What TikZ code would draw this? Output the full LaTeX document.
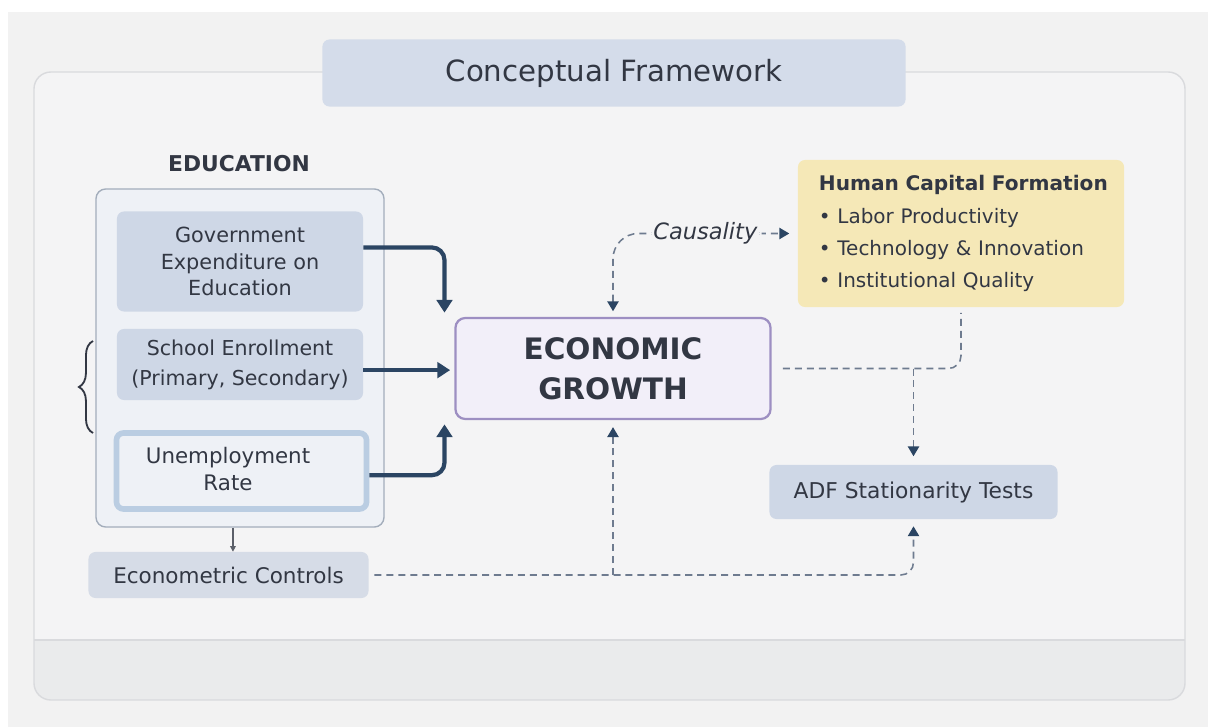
\documentclass[tikz,border=0pt]{standalone}
\usepackage{fontspec}
\setmainfont{DejaVu Sans}
\usepackage{xcolor}
\usetikzlibrary{arrows.meta}
\usetikzlibrary{decorations.pathreplacing}

\definecolor{pagegray}{HTML}{F2F2F2}
\definecolor{framefill}{HTML}{F4F4F5}
\definecolor{frameline}{HTML}{D9DADD}
\definecolor{bandgray}{HTML}{EAEBEC}
\definecolor{slate}{HTML}{D4DCEA}
\definecolor{slatebox}{HTML}{CED7E6}
\definecolor{ctrlbox}{HTML}{D6DCE7}
\definecolor{edufill}{HTML}{EEF1F6}
\definecolor{eduline}{HTML}{A3ADBB}
\definecolor{unempline}{HTML}{BACDE2}
\definecolor{growthfill}{HTML}{F2EFF9}
\definecolor{growthline}{HTML}{9D8FC2}
\definecolor{hcfill}{HTML}{F5E8B7}
\definecolor{navy}{HTML}{2B4563}
\definecolor{dashgray}{HTML}{6E7B8F}
\definecolor{textdark}{HTML}{323743}

\tikzset{every node/.style={text=textdark},
 box/.style={rounded corners=5pt, align=center,
   font=\fontsize{14.8}{18.8}\selectfont},
 lightbox/.style={box, fill=slatebox},
 flow/.style={line width=3pt, draw=navy, rounded corners=9pt,
   -{Triangle[length=9pt,width=11pt]}, shorten >=3pt},
 link/.style={draw=dashgray, line width=1.1pt, dash pattern=on 5pt off 3.5pt,
   rounded corners=9pt},
 tip/.style={-{Triangle[length=7pt,width=8pt,color=navy]}},
 bothtips/.style={{Triangle[length=7pt,width=8pt,color=navy]}-{Triangle[length=7pt,width=8pt,color=navy]}},
 }

\begin{document}
\begin{tikzpicture}[x=0.025cm, y=-0.025cm]
        \useasboundingbox (0,0) rectangle (1208,727);
        \fill[white] (0,0) rectangle (1208,727);
        \fill[pagegray] (8,12) rectangle (1208,727);
        % frame with its bottom band
        \fill[framefill, rounded corners=12pt] (34,72) rectangle (1185,700);
        \begin{scope}
            \clip[rounded corners=12pt] (34,72) rectangle (1185,700);
            \fill[bandgray] (34,640) rectangle (1185,700);
        \end{scope}
        \draw[frameline, line width=1pt] (34,640) -- (1185,640);
        \draw[frameline, line width=1pt, rounded corners=12pt] (34,72) rectangle (1185,700);

        \node[box, fill=slate, minimum width=14.575cm, minimum height=1.675cm,
            font=\fontsize{20.8}{25}\selectfont] (title) at (614,73) {Conceptual Framework};

        % education block
        \node[font=\fontsize{15.5}{18}\bfseries] (edulbl) at (239,164) {EDUCATION};
        \node[box, fill=edufill, draw=eduline, line width=1pt, rounded corners=7pt,
            minimum width=7.2cm, minimum height=8.45cm] (edu) at (240,358) {};
        \node[lightbox, minimum width=6.15cm, minimum height=2.5cm] (gov) at (240,261.5)
            {Government\\Expenditure on\\Education};
        \node[lightbox, minimum width=6.15cm, minimum height=1.775cm,
            font=\fontsize{14.6}{21.5}\selectfont] (school) at (240,364.5)
            {School Enrollment\\(Primary, Secondary)};
        \node[box, fill=edufill, draw=unempline, line width=4pt,
            minimum width=6.25cm, minimum height=1.9cm] (unemp) at (241.5,471) {};
        \node[box, font=\fontsize{15.2}{19}\selectfont] (unemptxt) at (228,469)
            {Unemployment\\Rate};
        \draw[textdark, line width=1.3pt, decorate,
            decoration={brace, amplitude=10pt}] (93,433) -- (93,341);

        \node[box, fill=ctrlbox, minimum width=7cm, minimum height=1.15cm,
            font=\fontsize{15.3}{19}\selectfont] (econ) at (228.5,575) {Econometric Controls};

        \node[box, fill=growthfill, draw=growthline, line width=1.6pt, rounded corners=7pt,
            minimum width=7.875cm, minimum height=2.525cm,
            font=\fontsize{21}{28.5}\bfseries] (growth) at (613,368.5) {ECONOMIC\\GROWTH};

        \node[box, fill=hcfill, align=left, text width=7.1cm, inner xsep=0.525cm,
            minimum height=3.675cm, font=\fontsize{14.2}{22.5}\selectfont] (hcf) at (961,233.5)
            {\mbox{\fontsize{14.3}{22.5}\bfseries Human Capital Formation}\\[1pt]
             \textbullet\ Labor Productivity\\
             \textbullet\ Technology \& Innovation\\
             \textbullet\ Institutional Quality};

        \node[lightbox, minimum width=7.2cm, minimum height=1.35cm,
            font=\fontsize{15.5}{19}\selectfont] (adf) at (913.5,492) {ADF Stationarity Tests};

        % solid arrows into growth
        \draw[flow] ([yshift=10pt]gov.east) -| ([xshift=-7pt]growth.north west);
        \draw[flow] ([yshift=-4pt]school.east) -- ([yshift=-4pt]school.east -| growth.west);
        \draw[flow] ([yshift=-3pt]unemp.east) -| ([xshift=-7pt]growth.south west);
        \draw[line width=0.8pt, draw=textdark!80, -{Triangle[length=4pt,width=4pt]}]
            ([xshift=-5pt]edu.south) -- ([xshift=-5pt]edu.south |- econ.north);

        % dashed links
        \draw[link, bothtips, rounded corners=18pt, shorten <=4pt, shorten >=6pt]
            (growth.north) |- (hcf.west)
            node[pos=0.75, fill=framefill, inner sep=3pt, font=\fontsize{16}{18}\itshape]
            (caus) {Causality};
        \draw[link, shorten <=8pt, shorten >=4pt] (growth.east) -| (hcf.south);
        \draw[link, tip, shorten >=6pt] (adf.north |- growth.east) -- (adf.north);
        \draw[link, tip, shorten <=4pt, shorten >=5pt] (econ.east) -| (adf.south);
        \draw[link, tip, shorten >=5pt] (growth.south |- econ.east) -- (growth.south);
    \end{tikzpicture}
\end{document}
